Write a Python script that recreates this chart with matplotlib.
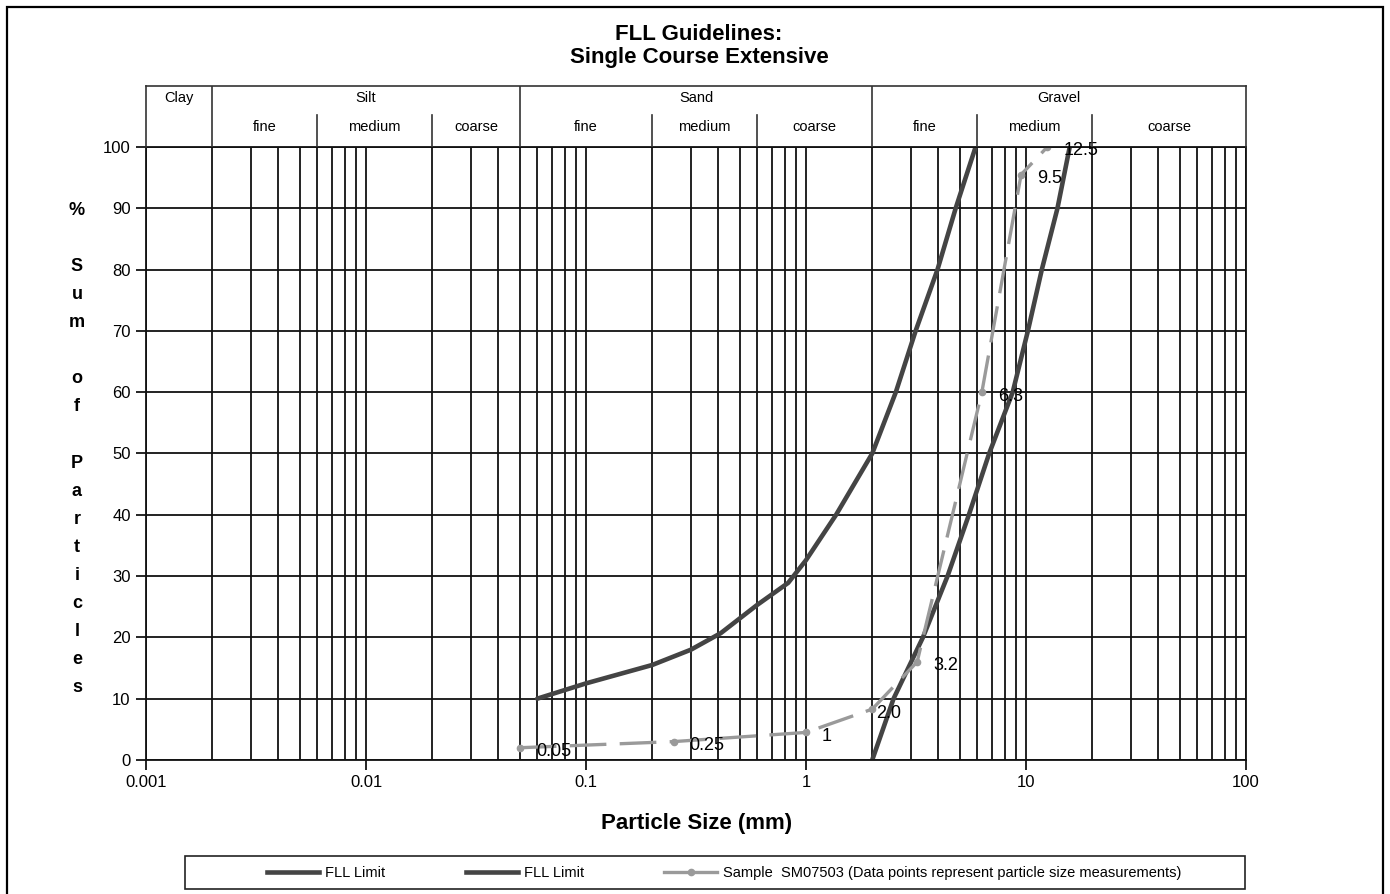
import numpy as np
import matplotlib
matplotlib.use("Agg")
from matplotlib import pyplot as plt
from matplotlib.ticker import FixedLocator, FixedFormatter, MultipleLocator, LogLocator, NullFormatter
from matplotlib.patches import Rectangle
from matplotlib.lines import Line2D

plt.rcParams['font.family'] = ['Liberation Sans', 'DejaVu Sans']

# DATA

# FLL limit curves: particle size (mm) vs % sum of particles
fll_lower_x = [0.06, 0.1, 0.2, 0.3, 0.41, 0.6, 0.83, 1.0, 1.37, 2.0, 2.56, 3.15, 3.96, 4.79, 5.9]
fll_lower_y = [10, 12.5, 15.5, 18, 20.7, 25.3, 28.9, 32.6, 40, 50, 60, 70, 80, 90, 100]

fll_upper_x = [2.0, 2.5, 3.4, 4.4, 5.5, 6.8, 8.7, 10.2, 11.8, 13.9, 15.8]
fll_upper_y = [0, 10, 20, 30, 40, 50, 60, 70, 80, 90, 100]

# sample SM07503 measurements
sample_x = [0.05, 0.25, 1.0, 2.0, 3.2, 6.3, 9.5, 12.5]
sample_y = [2, 3, 4.5, 8.3, 16, 60, 95.5, 100]
sample_labels = ["0.05", "0.25", "1", "2.0", "3.2", "6.3", "9.5", "12.5"]

# axis ticks
x_ticks = [0.001, 0.01, 0.1, 1, 10, 100]
x_tick_labels = ["0.001", "0.01", "0.1", "1", "10", "100"]

# soil classification header
main_classes = ["Clay", "Silt", "Sand", "Gravel"]
main_bounds = [0.001, 0.002, 0.05, 2, 100]
sub_classes = ["fine", "medium", "coarse", "fine", "medium", "coarse", "fine", "medium", "coarse"]
sub_bounds = [0.002, 0.006, 0.02, 0.05, 0.2, 0.6, 2, 6, 20, 100]

legend_labels = ["FLL Limit", "FLL Limit",
                 "Sample  SM07503 (Data points represent particle size measurements)"]

FLL_COLOR = "#444444"
SAMPLE_COLOR = "#9a9a9a"
GRID_COLOR = "#111111"

W, H = 1390, 894
fig = plt.figure(figsize=(W / 100, H / 100), dpi=100)

ax_left, ax_right, ax_top, ax_bottom = 146, 1246, 147, 760
ax = fig.add_axes([ax_left / W, 1 - ax_bottom / H, (ax_right - ax_left) / W, (ax_bottom - ax_top) / H])

ax.set_xscale("log")
ax.set_xlim(0.001, 100)
ax.set_ylim(0, 100)

ax.xaxis.set_major_locator(FixedLocator(x_ticks))
ax.xaxis.set_major_formatter(FixedFormatter(x_tick_labels))
ax.xaxis.set_minor_locator(LogLocator(base=10, subs=np.arange(2, 10)))
ax.xaxis.set_minor_formatter(NullFormatter())
ax.yaxis.set_major_locator(MultipleLocator(10))

ax.grid(which="both", axis="x", color=GRID_COLOR, lw=1.3)
ax.grid(which="major", axis="y", color=GRID_COLOR, lw=1.3)
ax.set_axisbelow(True)
for s in ax.spines.values():
    s.set_color(GRID_COLOR)
    s.set_linewidth(1.3)

ax.tick_params(axis="both", which="major", direction="out", length=7, width=1.2,
               labelsize=12, colors="black", pad=4)
ax.tick_params(axis="x", which="minor", length=0)

# curves
ax.plot(fll_lower_x, fll_lower_y, color=FLL_COLOR, lw=3.3, solid_capstyle="round",
        label=legend_labels[0])
ax.plot(fll_upper_x, fll_upper_y, color=FLL_COLOR, lw=3.3, solid_capstyle="round",
        label=legend_labels[1])
ax.plot(sample_x, sample_y, color=SAMPLE_COLOR, lw=2.4, dashes=(11, 4), marker="o",
        markersize=4.5, label=legend_labels[2])

for x, y, txt in zip(sample_x, sample_y, sample_labels):
    dx = 4 if txt == "2.0" else 16
    ax.annotate(txt, (x, y), xytext=(dx, -4), textcoords="offset pixels",
                ha="left", va="center", fontsize=13, color="black")

# header table above the plot
hdr_top = 86
hax = fig.add_axes([ax_left / W, 1 - ax_top / H, (ax_right - ax_left) / W, (ax_top - hdr_top) / H])
hax.set_xscale("log")
hax.set_xlim(0.001, 100)
hax.set_ylim(0, 1)
hax.set_xticks([])
hax.set_yticks([])
hax.xaxis.set_minor_locator(FixedLocator([]))
hax.patch.set_alpha(0)
hax.spines["bottom"].set_visible(False)
for k in ("top", "left", "right"):
    hax.spines[k].set_color("#333333")
    hax.spines[k].set_linewidth(1.2)

for b in main_bounds[1:-1]:
    hax.axvline(b, 0, 1, color="#333333", lw=1.2)
for b in sub_bounds[1:-1]:
    if b not in main_bounds:
        hax.axvline(b, 0, 0.52, color="#333333", lw=1.2)

for i, name in enumerate(main_classes):
    xc = np.sqrt(main_bounds[i] * main_bounds[i + 1])
    hax.text(xc, 0.8, name, ha="center", va="center", fontsize=10.5)
for i, name in enumerate(sub_classes):
    xc = np.sqrt(sub_bounds[i] * sub_bounds[i + 1])
    hax.text(xc, 0.32, name, ha="center", va="center", fontsize=10.5)

# titles and axis labels
fig.text(0.503, 1 - 35 / H, "FLL Guidelines:", ha="center", va="center",
         fontsize=16, fontweight="bold")
fig.text(0.503, 1 - 58 / H, "Single Course Extensive", ha="center", va="center",
         fontsize=16, fontweight="bold")
fig.text(0.501, 1 - 824 / H, "Particle Size (mm)", ha="center", va="center",
         fontsize=16, fontweight="bold")

ylab = "%\n\nS\nu\nm\n\no\nf\n\nP\na\nr\nt\ni\nc\nl\ne\ns"
fig.text(77 / W, 1 - 449 / H, ylab, ha="center", va="center", multialignment="center",
         fontsize=13, fontweight="bold", linespacing=1.85)

# legend box
fig.patches.append(Rectangle((185 / W, 1 - 889 / H), (1245 - 185) / W, (889 - 856) / H,
                             transform=fig.transFigure, fill=False, ec="#222222", lw=1.2))
handles = [Line2D([], [], color=FLL_COLOR, lw=3.3),
           Line2D([], [], color=FLL_COLOR, lw=3.3),
           Line2D([], [], color=SAMPLE_COLOR, lw=2.4, marker="o", markersize=4.5)]
fig.legend(handles, legend_labels, loc="center", ncol=3, frameon=False,
           bbox_to_anchor=(724 / W, 1 - 873 / H), prop={"size": 10.5},
           handlelength=3.6, handletextpad=0.4, columnspacing=5.5)

# outer frame
fig.patches.append(Rectangle((7 / W, -0.01), (1383 - 7) / W, 1.01 - 7 / H,
                             transform=fig.transFigure, fill=False, ec="black", lw=1.6))

fig.savefig("out.png", dpi=100)
